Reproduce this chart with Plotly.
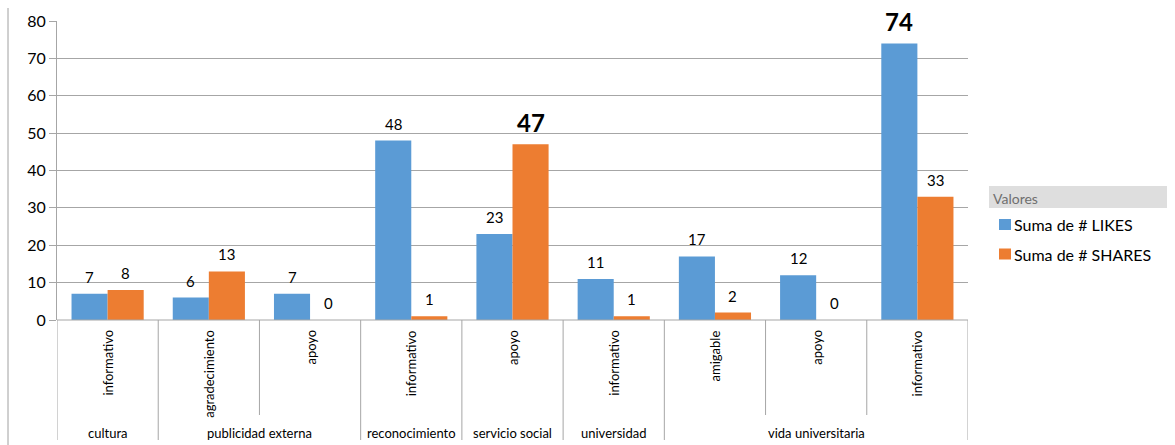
import plotly.graph_objects as go

groups = ["cultura", "publicidad externa", "publicidad externa", "reconocimiento",
          "servicio social", "universidad", "vida universitaria", "vida universitaria",
          "vida universitaria"]
subcats = ["informativo", "agradecimiento", "apoyo", "informativo", "apoyo",
           "informativo", "amigable", "apoyo", "informativo"]
likes = [7, 6, 7, 48, 23, 11, 17, 12, 74]
shares = [8, 13, 0, 1, 47, 1, 2, 0, 33]
series_names = ["Suma de # LIKES", "Suma de # SHARES"]
legend_title = "Valores"
y_ticks = [0, 10, 20, 30, 40, 50, 60, 70, 80]

BLUE = "#5b9bd5"
ORANGE = "#ed7d31"
GRID = "#a6a6a6"
FONT = "Lato"
BARGAP = 0.287

W, H = 1175, 445
L, R, T, B = 57, 968, 21, 320
PW, PH = R - L, B - T


def px_y(p):
    return (B - p) / PH


def px_x(p):
    return (p - L) / PW


x = list(range(len(subcats)))
series = [likes, shares]
colors = [BLUE, ORANGE]

fig = go.Figure()
for name, vals, col in zip(series_names, series, colors):
    fig.add_trace(go.Bar(x=x, y=vals, name=name, marker_color=col,
                         marker_line_width=0, showlegend=False))

annotations = []
# data labels (largest value of each series in bold, larger)
bw = (1 - BARGAP) / len(series)
for s, vals in enumerate(series):
    off = (s - (len(series) - 1) / 2) * bw
    m = max(vals)
    for i, v in enumerate(vals):
        big = v == m
        annotations.append(dict(
            x=i + off, y=v, xref="x", yref="y",
            text=f"<b>{v}</b>" if big else str(v),
            showarrow=False, xanchor="center", yanchor="bottom",
            yshift=5 if big else 6,
            font=dict(size=24 if big else 15, family=FONT, color="#000000")))

shapes = []
n = len(subcats)
for k in range(n + 1):
    if k == 0 or k == n or groups[k] != groups[k - 1]:
        bottom = 440
    else:
        bottom = 415
    shapes.append(dict(type="line", xref="x", yref="paper",
                       x0=k - 0.5, x1=k - 0.5, y0=0, y1=px_y(bottom),
                       line=dict(color=GRID, width=1)))
shapes.append(dict(type="line", xref="paper", yref="paper", x0=0, x1=1, y0=0, y1=0,
                   line=dict(color=GRID, width=1)))
shapes.append(dict(type="line", xref="paper", yref="paper",
                   x0=px_x(8), x1=px_x(8), y0=px_y(445), y1=px_y(8),
                   line=dict(color="#a0a0a0", width=1)))
# legend (drawn as a block at the right)
shapes.append(dict(type="rect", xref="paper", yref="paper", layer="below",
                   x0=px_x(989), x1=px_x(1167), y0=px_y(208), y1=px_y(186),
                   line=dict(width=0), fillcolor="#dedede"))
annotations.append(dict(x=px_x(991), y=px_y(198), xref="paper", yref="paper",
                        text=legend_title, showarrow=False, xanchor="left",
                        yanchor="middle",
                        font=dict(size=14, family=FONT, color="#6f6f6f")))
for j, (name, col) in enumerate(zip(series_names, colors)):
    cy = 224.5 + j * 29.5
    shapes.append(dict(type="rect", xref="paper", yref="paper",
                       x0=px_x(999), x1=px_x(1011), y0=px_y(cy + 5.5), y1=px_y(cy - 5.5),
                       line=dict(width=0), fillcolor=col))
    annotations.append(dict(x=px_x(1012), y=px_y(cy), xref="paper", yref="paper",
                            text=name, showarrow=False, xanchor="left", yanchor="middle",
                            font=dict(size=16, family=FONT, color="#000000")))

for i, s in enumerate(subcats):
    annotations.append(dict(x=i, y=px_y(328), xref="x", yref="paper", text=s,
                            textangle=-90, showarrow=False, xanchor="center",
                            yanchor="top", font=dict(size=13, family=FONT, color="#000000")))
start = 0
for k in range(1, n + 1):
    if k == n or groups[k] != groups[k - 1]:
        annotations.append(dict(x=(start + k - 1) / 2, y=px_y(433), xref="x", yref="paper",
                                text=groups[start], showarrow=False, xanchor="center",
                                yanchor="middle",
                                font=dict(size=13, family=FONT, color="#000000")))
        start = k

fig.update_layout(
    width=W, height=H,
    margin=dict(l=L, r=W - R, t=T, b=H - B, pad=0),
    plot_bgcolor="white", paper_bgcolor="white",
    barmode="group", bargap=BARGAP, bargroupgap=0,
    font=dict(family=FONT, color="#000000"),
    showlegend=False,
    xaxis=dict(range=[-0.5, n - 0.5], showticklabels=False, showgrid=False,
               zeroline=False, showline=False, ticks=""),
    yaxis=dict(range=[0, 80], tickvals=y_ticks, showgrid=True, gridcolor=GRID,
               gridwidth=1, zeroline=False, showline=True, linecolor=GRID,
               ticks="outside", ticklen=7, tickcolor=GRID,
               tickfont=dict(size=16, family=FONT, color="#000000")),
    shapes=shapes,
    annotations=annotations,
)

fig.write_html("out.html")
